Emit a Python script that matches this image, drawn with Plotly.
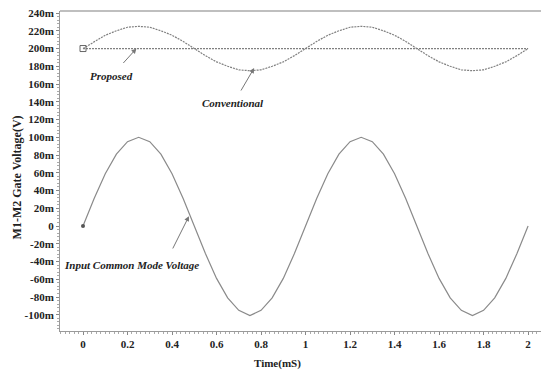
import plotly.graph_objects as go

# time axis (mS)
t = [0, 0.05, 0.1, 0.15, 0.2, 0.25, 0.3, 0.35, 0.4, 0.45, 0.5, 0.55, 0.6, 0.65, 0.7, 0.75, 0.8, 0.85, 0.9, 0.95,
     1.0, 1.05, 1.1, 1.15, 1.2, 1.25, 1.3, 1.35, 1.4, 1.45, 1.5, 1.55, 1.6, 1.65, 1.7, 1.75, 1.8, 1.85, 1.9, 1.95, 2.0]
# input common mode voltage (mV)
icm = [0, 31, 59, 81, 95, 100, 95, 81, 59, 31, 0, -31, -59, -81, -95, -101, -95, -81, -59, -31,
       0, 31, 59, 81, 95, 100, 95, 81, 59, 31, 0, -31, -59, -81, -95, -101, -95, -81, -59, -31, 0]
# conventional gate voltage (mV)
conv = [200, 208, 215, 220, 224, 225, 224, 220, 215, 208, 200, 192, 185, 180, 176, 175, 176, 180, 185, 192,
        200, 208, 215, 220, 224, 225, 224, 220, 215, 208, 200, 192, 185, 180, 176, 175, 176, 180, 185, 192, 200]
# proposed gate voltage (mV)
prop_t = [0, 2.0]
prop = [200, 200]

y_ticks = [240, 220, 200, 180, 160, 140, 120, 100, 80, 60, 40, 20, 0, -20, -40, -60, -80, -100]
y_labels = ["240m", "220m", "200m", "180m", "160m", "140m", "120m", "100m", "80m", "60m", "40m", "20m",
            "0", "-20m", "-40m", "-60m", "-80m", "-100m"]
x_ticks = [0, 0.2, 0.4, 0.6, 0.8, 1, 1.2, 1.4, 1.6, 1.8, 2]
x_labels = ["0", "0.2", "0.4", "0.6", "0.8", "1", "1.2", "1.4", "1.6", "1.8", "2"]

SERIF = "Liberation Serif, Times New Roman, serif"
GRAY = "#8a8a8a"

fig = go.Figure()
fig.add_trace(go.Scatter(x=prop_t, y=prop, mode="lines",
                         line=dict(color="#808080", width=1.2, dash="2px,1px"), showlegend=False))
fig.add_trace(go.Scatter(x=t, y=conv, mode="lines",
                         line=dict(color="#808080", width=1.2, dash="2px,1px"), showlegend=False))
fig.add_trace(go.Scatter(x=t, y=icm, mode="lines",
                         line=dict(color=GRAY, width=1.2), showlegend=False))
fig.add_trace(go.Scatter(x=[t[0]], y=[conv[0]], mode="markers",
                         marker=dict(symbol="square-open", size=6, color="#666", line=dict(width=1)),
                         showlegend=False))
fig.add_trace(go.Scatter(x=[t[0]], y=[icm[0]], mode="markers",
                         marker=dict(symbol="circle", size=4, color="#555"), showlegend=False))

tf = dict(family=SERIF, size=11, color="#222", weight="bold")
fig.update_layout(
    width=542, height=370,
    margin=dict(l=60, r=1, t=11, b=39),
    paper_bgcolor="white", plot_bgcolor="white",
    xaxis=dict(range=[-0.1034, 2.058], tickvals=x_ticks, ticktext=x_labels, tickfont=tf,
               showgrid=False, zeroline=False, showline=True, linecolor="#9a9a9a", linewidth=1,
               ticks="outside", ticklen=3, tickcolor="#888",
               minor=dict(dtick=0.02, tick0=0, ticks="outside", ticklen=2, tickcolor="#aaa")),
    yaxis=dict(range=[-118.3, 242.3], tickvals=y_ticks, ticktext=y_labels, tickfont=tf,
               showgrid=False, zeroline=False, showline=True, linecolor="#9a9a9a", linewidth=1,
               ticks="outside", ticklen=3, tickcolor="#888",
               minor=dict(dtick=4, tick0=0, ticks="outside", ticklen=2, tickcolor="#aaa")),
    shapes=[dict(type="line", xref="paper", yref="paper", x0=0, x1=1, y0=1, y1=1,
                 line=dict(color="#aaaaaa", width=1.5))],
)

lab = dict(family=SERIF, size=11, color="#222", weight="bold", style="italic")
ann = [
    dict(x=0.13, y=169, text="Proposed", showarrow=False, font=lab),
    dict(x=0.674, y=139, text="Conventional", showarrow=False, font=lab),
    dict(x=0.216, y=-44, text="Input Common Mode Voltage", showarrow=False, font=lab),
    dict(x=0.24, y=200, ax=0.175, ay=182, axref="x", ayref="y", text="", showarrow=True,
         arrowhead=2, arrowsize=1, arrowwidth=1, arrowcolor="#777"),
    dict(x=0.769, y=178, ax=0.706, ay=151, axref="x", ayref="y", text="", showarrow=True,
         arrowhead=2, arrowsize=1, arrowwidth=1, arrowcolor="#777"),
    dict(x=0.476, y=11, ax=0.40, ay=-27, axref="x", ayref="y", text="", showarrow=True,
         arrowhead=2, arrowsize=1, arrowwidth=1, arrowcolor="#777"),
    dict(xref="paper", yref="paper", x=-0.0894, y=0.48, text="M1-M2 Gate Voltage(V)", textangle=-90,
         showarrow=False, xanchor="center", yanchor="middle",
         font=dict(family=SERIF, size=12, color="#222", weight="bold")),
    dict(xref="paper", yref="paper", x=0.453, y=-0.1, text="Time(mS)", showarrow=False,
         xanchor="center", yanchor="middle",
         font=dict(family=SERIF, size=11, color="#222", weight="bold")),
]
fig.update_layout(annotations=ann)

fig.write_html("out.html")
